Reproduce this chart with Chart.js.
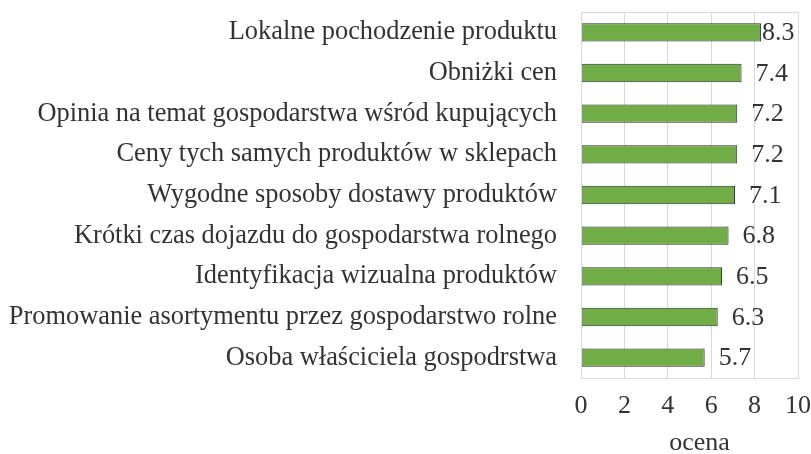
<!DOCTYPE html>
<html>
<head>
<meta charset="utf-8">
<script src="https://cdn.jsdelivr.net/npm/chart.js@4"></script>
<style>
  html, body { margin: 0; padding: 0; background: #fff; }
  #wrap { width: 811px; height: 454px; }
</style>
</head>
<body>
<div id="wrap"><canvas id="ratingChart"></canvas></div>
<script>
const categories = [
  "Lokalne pochodzenie produktu",
  "Obniżki cen",
  "Opinia na temat gospodarstwa wśród kupujących",
  "Ceny tych samych produktów w sklepach",
  "Wygodne sposoby dostawy produktów",
  "Krótki czas dojazdu do gospodarstwa rolnego",
  "Identyfikacja wizualna produktów",
  "Promowanie asortymentu przez gospodarstwo rolne",
  "Osoba właściciela gospodrstwa"
];
const ratings = [8.3, 7.4, 7.2, 7.2, 7.1, 6.8, 6.5, 6.3, 5.7];
const valueLabels = ["8.3", "7.4", "7.2", "7.2", "7.1", "6.8", "6.5", "6.3", "5.7"];
const axisTitle = "ocena";

const serif = "'Liberation Serif', 'Times New Roman', serif";
const textColor = "#333333";
const fontSize = 26;

// value labels at the bar ends
const barValues = {
  id: "barValues",
  afterDatasetsDraw(chart) {
    const ctx = chart.ctx;
    const meta = chart.getDatasetMeta(0);
    ctx.save();
    ctx.font = fontSize + "px " + serif;
    ctx.fillStyle = textColor;
    ctx.textBaseline = "middle";
    meta.data.forEach((bar, i) => {
      const txt = valueLabels[i];
      const w = ctx.measureText(txt).width;
      let x = bar.x + 14;
      if (x + w > chart.chartArea.right - 3) x = bar.x + 1;
      ctx.fillText(txt, x, bar.y + 1);
    });
    ctx.restore();
  }
};

// axis title + frame round the plot area
const decor = {
  id: "decor",
  afterDraw(c) {
    const a = c.chartArea;
    const ctx = c.ctx;
    ctx.save();
    ctx.strokeStyle = "#d9d9d9";
    ctx.lineWidth = 1;
    ctx.strokeRect(a.left + 0.5, a.top + 0.5, a.right - a.left, a.bottom - a.top);
    ctx.font = fontSize + "px " + serif;
    ctx.fillStyle = textColor;
    ctx.textAlign = "center";
    ctx.textBaseline = "alphabetic";
    ctx.fillText(axisTitle, (a.left + a.right) / 2 + 10, 450);
    ctx.restore();
  }
};

const ctx = document.getElementById("ratingChart").getContext("2d");
const chart = new Chart(ctx, {
  type: "bar",
  data: {
    labels: categories,
    datasets: [{
      data: ratings,
      backgroundColor: "#70AD47",
      borderColor: "#2b2b2b",
      borderWidth: 1,
      borderSkipped: false,
      categoryPercentage: 1,
      barPercentage: 0.45
    }]
  },
  options: {
    indexAxis: "y",
    responsive: true,
    maintainAspectRatio: false,
    animation: false,
    layout: { padding: { top: 12, right: 13, left: 0, bottom: 0 } },
    plugins: {
      legend: { display: false },
      tooltip: { enabled: false }
    },
    scales: {
      x: {
        min: 0,
        max: 10,
        afterFit(scale) {
          scale.height = 76;
          scale.paddingLeft = 0;
          scale.paddingRight = 0;
        },
        ticks: {
          stepSize: 2,
          padding: 13,
          maxRotation: 0,
          color: textColor,
          font: { family: serif, size: fontSize }
        },
        grid: { color: "#d9d9d9", drawTicks: false },
        border: { display: true, color: "#d9d9d9" }
      },
      y: {
        afterFit(scale) {
          scale.width = 581;
          scale.paddingTop = 0;
          scale.paddingBottom = 0;
        },
        ticks: {
          padding: 24,
          color: textColor,
          font: { family: serif, size: 26.4 }
        },
        grid: { display: false, drawTicks: false },
        border: { display: true, color: "#d9d9d9" }
      }
    }
  },
  plugins: [barValues, decor]
});
</script>
</body>
</html>
